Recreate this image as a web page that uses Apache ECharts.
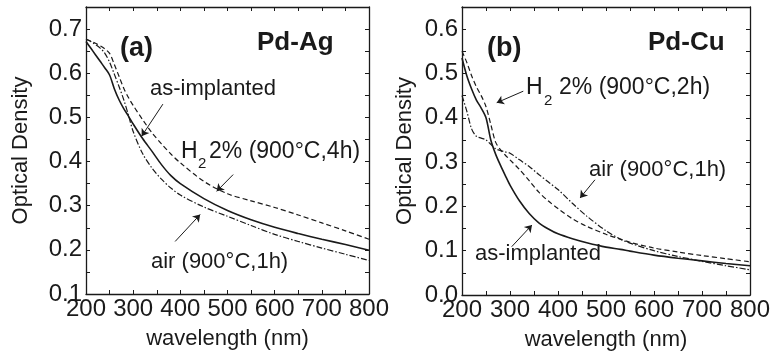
<!DOCTYPE html>
<html><head><meta charset="utf-8">
<script src="https://cdn.jsdelivr.net/npm/echarts@6/dist/echarts.min.js"></script>
<style>html,body{margin:0;padding:0;background:#fff}#c{width:770px;height:352px}</style>
</head><body><div id="c"></div>
<script>
// ---- Panel (a) Pd-Ag ----
const waveA = [200,210,220,230,240,250,260,270,280,290,300,320,340,360,380,400,450,500,550,600,650,700,750,800];
const agAsImpl = [0.672,0.657,0.642,0.627,0.612,0.596,0.565,0.540,0.520,0.503,0.485,0.452,0.423,0.393,0.368,0.350,0.316,0.289,0.268,0.251,0.237,0.224,0.212,0.199];
const agH2     = [0.677,0.673,0.668,0.662,0.655,0.645,0.620,0.593,0.566,0.545,0.527,0.495,0.465,0.440,0.417,0.397,0.355,0.327,0.311,0.296,0.279,0.261,0.243,0.224];
const agAir    = [0.677,0.672,0.665,0.657,0.645,0.625,0.598,0.570,0.540,0.505,0.468,0.418,0.385,0.360,0.340,0.324,0.297,0.276,0.255,0.235,0.219,0.204,0.190,0.176];
// ---- Panel (b) Pd-Cu ----
const waveB = [200,210,220,230,240,250,260,270,280,290,300,320,340,360,380,400,430,460,500,530,550,600,650,700,750,800];
const cuAsImpl = [0.535,0.495,0.465,0.440,0.422,0.400,0.350,0.318,0.293,0.270,0.248,0.212,0.184,0.163,0.149,0.138,0.127,0.118,0.108,0.103,0.099,0.090,0.083,0.077,0.071,0.066];
const cuH2     = [0.550,0.525,0.495,0.470,0.450,0.425,0.385,0.345,0.328,0.316,0.305,0.283,0.258,0.232,0.212,0.195,0.172,0.155,0.137,0.126,0.119,0.106,0.097,0.089,0.082,0.075];
const cuAir    = [0.450,0.415,0.375,0.358,0.354,0.350,0.340,0.330,0.326,0.323,0.320,0.305,0.290,0.272,0.255,0.238,0.207,0.178,0.145,0.126,0.117,0.100,0.087,0.076,0.066,0.057];
// axis ticks
const xTicks = [200,300,400,500,600,700,800];
const yRangeA = [0.1, 0.75];
const yRangeB = [0.0, 0.65];
// annotation arrows (data coords: [from, to])
const arrowsA = [[[363,0.530],[318,0.4575]], [[512,0.3705],[477,0.3325]], [[389,0.219],[442,0.280]]];
const arrowsB = [[[327.7,0.460],[272.3,0.434]], [[477,0.260],[446,0.219]], [[303.5,0.109],[345.8,0.158]]];

const zip = (xs, ys) => xs.map((x, i) => [x, ys[i]]);
const INK = '#1a1a1a';
const FONT = '"Liberation Sans", Arial, Helvetica, sans-serif';

function xAx(gi, pos, labels) {
  return {
    type: 'value', gridIndex: gi, position: pos, min: 200, max: 800, interval: 50,
    axisLine: {show: true, onZero: false, lineStyle: {color: INK, width: 1.3}},
    axisTick: {show: true, inside: true, length: 4, lineStyle: {color: INK, width: 1}},
    splitLine: {show: false},
    axisLabel: labels ? {show: true, fontFamily: FONT, fontSize: 24, color: INK, margin: 3,
      formatter: v => (xTicks.indexOf(Math.round(v)) >= 0 ? String(Math.round(v)) : '')} : {show: false},
    name: labels ? 'wavelength (nm)' : '', nameLocation: 'middle', nameGap: 34,
    nameTextStyle: {fontFamily: FONT, fontSize: 22, color: INK}
  };
}
function yAx(gi, pos, range, labels, gap) {
  return {
    type: 'value', gridIndex: gi, position: pos, min: range[0], max: range[1], interval: 0.05,
    axisLine: {show: true, onZero: false, lineStyle: {color: INK, width: 1.3}},
    axisTick: {show: true, inside: true, length: 4, lineStyle: {color: INK, width: 1}},
    splitLine: {show: false},
    axisLabel: labels ? {show: true, fontFamily: FONT, fontSize: 24, color: INK, margin: 4,
      formatter: v => (Math.round(v * 20) % 2 === 0 ? v.toFixed(1) : '')} : {show: false},
    name: labels ? 'Optical Density' : '', nameLocation: 'middle', nameGap: gap,
    nameTextStyle: {fontFamily: FONT, fontSize: 22, color: INK}
  };
}
function line(xi, yi, data, type, width, arrows) {
  const s = {
    type: 'line', xAxisIndex: xi, yAxisIndex: yi, data: data, symbol: 'none', smooth: 0.3,
    lineStyle: {color: INK, width: width, type: type}, silent: true
  };
  if (arrows) {
    s.markLine = {
      silent: true, symbol: ['none', 'arrow'], symbolSize: 7, label: {show: false},
      lineStyle: {color: INK, width: 1, type: 'solid'},
      data: arrows.map(a => [{coord: a[0]}, {coord: a[1]}])
    };
  }
  return s;
}
const DASH = [5, 3];
const DASHDOT = [6, 2, 1.5, 2];

function txt(x, y, s, size, bold) {
  return {type: 'text', left: x, top: y - size / 2, silent: true,
    style: {text: s, fontFamily: FONT, fontSize: size, fontWeight: bold ? 'bold' : 'normal', fill: INK}};
}

const chart = echarts.init(document.getElementById('c'), null, {renderer: 'canvas'});
chart.setOption({
  animation: false,
  backgroundColor: '#fff',
  grid: [
    {left: 86, top: 7, width: 283, height: 287, outerBoundsMode: 'none', containLabel: false},
    {left: 462, top: 7, width: 288, height: 288, outerBoundsMode: 'none', containLabel: false}
  ],
  xAxis: [xAx(0, 'bottom', true), xAx(0, 'top', false), xAx(1, 'bottom', true), xAx(1, 'top', false)],
  yAxis: [yAx(0, 'left', yRangeA, true, 54), yAx(0, 'right', yRangeA, false, 0),
          yAx(1, 'left', yRangeB, true, 46), yAx(1, 'right', yRangeB, false, 0)],
  series: [
    line(0, 0, zip(waveA, agAsImpl), 'solid', 1.6, arrowsA),
    line(0, 0, zip(waveA, agH2), DASH, 1.2),
    line(0, 0, zip(waveA, agAir), DASHDOT, 1.2),
    line(2, 2, zip(waveB, cuAsImpl), 'solid', 1.6, arrowsB),
    line(2, 2, zip(waveB, cuH2), DASH, 1.2),
    line(2, 2, zip(waveB, cuAir), DASHDOT, 1.2)
  ],
  graphic: [
    txt(120, 49, '(a)', 27, true),
    txt(257, 43, 'Pd-Ag', 26, true),
    txt(150, 89, 'as-implanted', 22, false),
    txt(181, 152, 'H', 23, false),
    txt(198, 164, '2', 15, false),
    txt(209, 152, '2% (900°C,4h)', 23, false),
    txt(151, 262, 'air (900°C,1h)', 22, false),
    txt(487, 49, '(b)', 27, true),
    txt(648, 43, 'Pd-Cu', 26, true),
    txt(526, 88, 'H', 23, false),
    txt(544, 101, '2', 15, false),
    txt(559, 88, '2% (900°C,2h)', 23, false),
    txt(589, 170, 'air (900°C,1h)', 22, false),
    txt(475, 254, 'as-implanted', 22, false)
  ]
});
</script></body></html>
